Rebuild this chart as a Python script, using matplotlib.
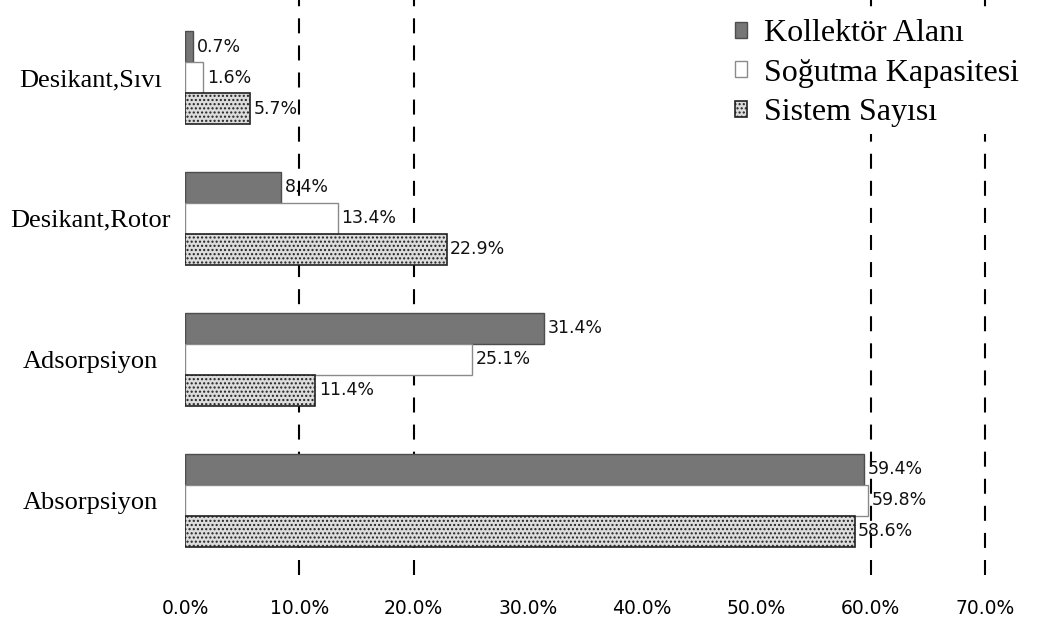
import numpy as np
import matplotlib
matplotlib.use("Agg")
import matplotlib.pyplot as plt
import matplotlib.ticker as tck

# Veriler (üstten alta)
kategoriler = ["Desikant,Sıvı", "Desikant,Rotor", "Adsorpsiyon", "Absorpsiyon"]
kollektor = [0.7, 8.4, 31.4, 59.4]
sogutma = [1.6, 13.4, 25.1, 59.8]
sistem = [5.7, 22.9, 11.4, 58.6]
seriler = ["Kollektör Alanı", "Soğutma Kapasitesi", "Sistem Sayısı"]
grid_x = [10, 20, 60, 70]

plt.rcParams['hatch.color'] = '#9a9a9a'
plt.rcParams['hatch.linewidth'] = 1.0

fig = plt.figure(figsize=(10.37, 6.22), dpi=100)
ax = fig.add_axes([0.1784, 0.0756, 0.7715, 0.9244])

y = np.arange(len(kategoriler))[::-1]
h = 0.22

for gx in grid_x:
    ax.axvline(gx, color='black', linestyle=(0, (7.2, 5.8)), linewidth=1.5, zorder=0, clip_on=False)

b1 = ax.barh(y + h, kollektor, height=h, color='#767676', edgecolor='#4d4d4d', linewidth=1, label=seriler[0], zorder=2)
b2 = ax.barh(y, sogutma, height=h, color='white', edgecolor='#8a8a8a', linewidth=1, label=seriler[1], zorder=2)
b3 = ax.barh(y - h, sistem, height=h, color='#dcdcdc', edgecolor='#222222', linewidth=1.2,
             hatch='....', label=seriler[2], zorder=2)

for bars, vals in [(b1, kollektor), (b2, sogutma), (b3, sistem)]:
    for bar, v in zip(bars, vals):
        ax.text(v + 0.3, bar.get_y() + bar.get_height() / 2, "{:.1f}%".format(v),
                va='center', ha='left', fontsize=12.5, color='#111111', zorder=3)

ax.set_xlim(0, 70)
ax.set_ylim(-0.53, 3.55)
ax.xaxis.set_major_locator(tck.MultipleLocator(10))
ax.xaxis.set_major_formatter(tck.FuncFormatter(lambda v, p: "{:.1f}%".format(v)))
ax.set_yticks(y)
ax.set_yticklabels(kategoriler, family='Liberation Serif', fontsize=19, ha='center')
for lab in ax.get_xticklabels():
    lab.set_fontsize(13.5)
ax.tick_params(axis='both', length=0)
ax.tick_params(axis='x', pad=17)
ax.tick_params(axis='y', pad=68)
for s in ax.spines.values():
    s.set_visible(False)

leg = fig.legend(handles=[b1, b2, b3], loc='upper left', bbox_to_anchor=(0.687, 1.005),
                 frameon=True, facecolor='white', edgecolor='none', framealpha=1, fancybox=False,
                 prop={'family': 'Liberation Serif', 'size': 23},
                 handlelength=0.38, handleheight=0.38, handletextpad=0.55, labelspacing=0.33,
                 borderpad=0.2)
leg.set_zorder(5)

fig.savefig("out.png", dpi=100)
